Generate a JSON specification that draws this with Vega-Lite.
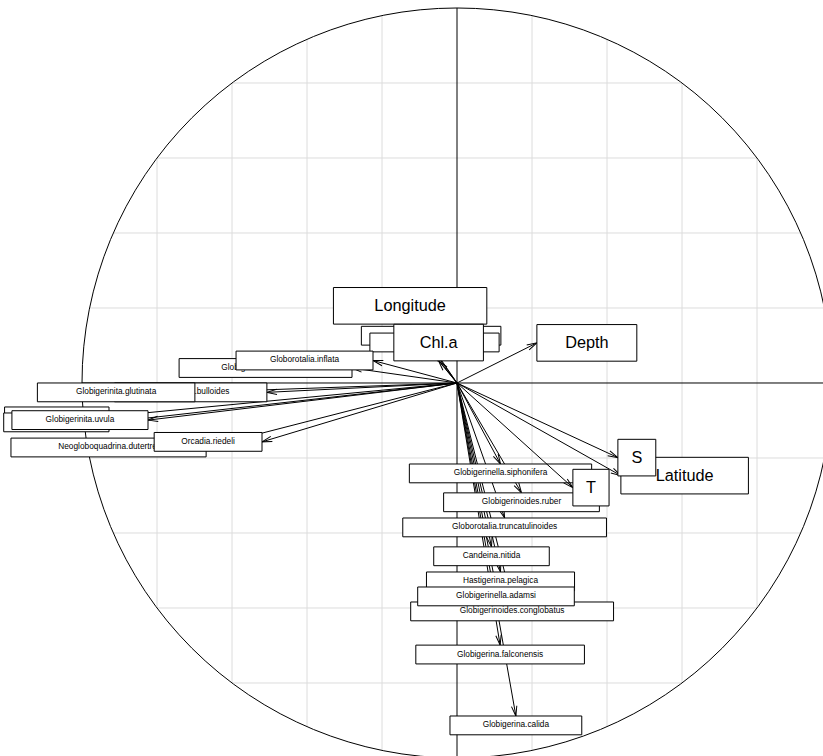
{
  "$schema": "https://vega.github.io/schema/vega-lite/v6.json",
  "width": 823,
  "height": 756,
  "padding": 0,
  "autosize": {"type": "none"},
  "background": "white",
  "config": {"view": {"stroke": null}},
  "datasets": {
    "grid": [{"g": -0.8}, {"g": -0.6}, {"g": -0.4}, {"g": -0.2}, {"g": 0.2}, {"g": 0.4}, {"g": 0.6}, {"g": 0.8}],
    "origin": [{"ox": 0, "oy": 0, "lo": -1, "hi": 1}],
    "vars": [
      {"label": "Tenuitella.iota", "group": "species", "x": -0.928, "y": -0.089},
      {"label": "Beella.digitata", "group": "species", "x": -0.928, "y": -0.105},
      {"label": "Globigerinita.uvula", "group": "species", "x": -0.824, "y": -0.099},
      {"label": "Globigerina.bulloides", "group": "species", "x": -0.507, "y": -0.025},
      {"label": "Globigerinita.glutinata", "group": "species", "x": -0.699, "y": -0.025},
      {"label": "Neogloboquadrina.dutertrei", "group": "species", "x": -0.669, "y": -0.172},
      {"label": "Orcadia.riedeli", "group": "species", "x": -0.52, "y": -0.157},
      {"label": "Globigerinoides.tenellus", "group": "species", "x": -0.28, "y": 0.04},
      {"label": "Globorotalia.inflata", "group": "species", "x": -0.224, "y": 0.06},
      {"label": "Globorotalia.scitula", "group": "species", "x": -0.069, "y": 0.101},
      {"label": "Orbulina.universa", "group": "species", "x": -0.06, "y": 0.083},
      {"label": "Globigerinella.siphonifera", "group": "species", "x": 0.116, "y": -0.216},
      {"label": "Globigerinoides.ruber", "group": "species", "x": 0.172, "y": -0.293},
      {"label": "Globorotalia.truncatulinoides", "group": "species", "x": 0.127, "y": -0.36},
      {"label": "Candeina.nitida", "group": "species", "x": 0.092, "y": -0.437},
      {"label": "Hastigerina.pelagica", "group": "species", "x": 0.116, "y": -0.504},
      {"label": "Globigerinoides.conglobatus", "group": "species", "x": 0.147, "y": -0.584},
      {"label": "Globigerinella.adamsi", "group": "species", "x": 0.104, "y": -0.544},
      {"label": "Globigerina.falconensis", "group": "species", "x": 0.115, "y": -0.699},
      {"label": "Globigerina.calida", "group": "species", "x": 0.157, "y": -0.888},
      {"label": "Longitude", "group": "env", "x": -0.125, "y": 0.157},
      {"label": "Depth", "group": "env", "x": 0.213, "y": 0.107},
      {"label": "Chl.a", "group": "env", "x": -0.049, "y": 0.059},
      {"label": "Latitude", "group": "env", "x": 0.437, "y": -0.247},
      {"label": "T", "group": "env", "x": 0.309, "y": -0.279},
      {"label": "S", "group": "env", "x": 0.429, "y": -0.199}
    ]
  },
  "layer": [
    {
      "data": {"name": "grid"},
      "transform": [{"calculate": "sqrt(1 - datum.g * datum.g)", "as": "hi"}, {"calculate": "-datum.hi", "as": "lo"}],
      "mark": {"type": "rule", "stroke": "#dcdcdc", "strokeWidth": 1, "clip": true},
      "encoding": {
        "x": {"field": "g", "type": "quantitative", "axis": null, "scale": {"domain": [-1.21867, 0.976], "nice": false, "zero": false}},
        "y": {"field": "lo", "type": "quantitative", "axis": null, "scale": {"domain": [-0.99467, 1.02133], "nice": false, "zero": false}},
        "y2": {"field": "hi"}
      }
    },
    {
      "data": {"name": "grid"},
      "transform": [{"calculate": "sqrt(1 - datum.g * datum.g)", "as": "hi"}, {"calculate": "-datum.hi", "as": "lo"}],
      "mark": {"type": "rule", "stroke": "#dcdcdc", "strokeWidth": 1, "clip": true},
      "encoding": {
        "y": {"field": "g", "type": "quantitative", "axis": null},
        "x": {"field": "lo", "type": "quantitative", "axis": null},
        "x2": {"field": "hi"}
      }
    },
    {
      "data": {"name": "origin"},
      "mark": {"type": "rule", "stroke": "#000000", "strokeWidth": 1, "clip": true},
      "encoding": {
        "x": {"field": "ox", "type": "quantitative", "axis": null},
        "y": {"field": "lo", "type": "quantitative", "axis": null},
        "y2": {"field": "hi"}
      }
    },
    {
      "data": {"name": "origin"},
      "mark": {"type": "rule", "stroke": "#000000", "strokeWidth": 1, "clip": true},
      "encoding": {
        "y": {"field": "oy", "type": "quantitative", "axis": null},
        "x": {"field": "lo", "type": "quantitative", "axis": null},
        "x2": {"field": "hi"}
      }
    },
    {
      "data": {"name": "origin"},
      "mark": {"type": "point", "shape": "circle", "size": 562500, "filled": false, "stroke": "#000000", "strokeWidth": 1, "opacity": 1, "clip": true},
      "encoding": {
        "x": {"field": "ox", "type": "quantitative", "axis": null},
        "y": {"field": "oy", "type": "quantitative", "axis": null}
      }
    },
    {
      "data": {"name": "vars"},
      "transform": [
        {"calculate": "0.556*length(datum.label) - 0.334*(length(datum.label)-length(replace(datum.label, regexp('[ijl]','g'), ''))) - 0.278*(length(datum.label)-length(replace(datum.label, regexp('[tf.]','g'), ''))) - 0.223*(length(datum.label)-length(replace(datum.label, regexp('r','g'), ''))) - 0.056*(length(datum.label)-length(replace(datum.label, regexp('[sckvxyz]','g'), ''))) + 0.277*(length(datum.label)-length(replace(datum.label, regexp('[mM]','g'), ''))) + 0.222*(length(datum.label)-length(replace(datum.label, regexp('[GOQ]','g'), ''))) + 0.166*(length(datum.label)-length(replace(datum.label, regexp('[CDHNRUw]','g'), ''))) + 0.111*(length(datum.label)-length(replace(datum.label, regexp('[ABEKPSVXY]','g'), ''))) + 0.055*(length(datum.label)-length(replace(datum.label, regexp('[FTZ]','g'), '')))", "as": "w"},
        {"calculate": "datum.group == 'env' ? 15.5 : 7.7", "as": "emb"},
        {"calculate": "(datum.w + 0.556) * datum.emb / 375", "as": "hw"},
        {"calculate": "(datum.group == 'env' ? 18.3 : 9.4) / 375", "as": "yh"},
        {"calculate": "datum.x > datum.y ? (datum.x > -datum.y ? 'R' : 'D') : (datum.x <= -datum.y ? 'L' : 'U')", "as": "dir"},
        {"calculate": "datum.dir == 'R' ? datum.x + datum.hw : (datum.dir == 'L' ? datum.x - datum.hw : datum.x)", "as": "cx"},
        {"calculate": "datum.dir == 'D' ? datum.y - datum.yh : (datum.dir == 'U' ? datum.y + datum.yh : datum.y)", "as": "cy"},
        {"calculate": "datum.cx - datum.hw", "as": "bx1"},
        {"calculate": "datum.cx + datum.hw", "as": "bx2"},
        {"calculate": "datum.cy - datum.yh", "as": "by1"},
        {"calculate": "datum.cy + datum.yh", "as": "by2"},
        {"calculate": "-atan2(datum.y, datum.x) * 180 / PI", "as": "ang"},
        {"calculate": "0", "as": "zero"}
      ],
      "layer": [
        {
          "transform": [{"filter": "datum.group == 'species'"}],
          "mark": {"type": "rule", "stroke": "#000000", "strokeWidth": 1, "clip": true},
          "encoding": {
            "x": {"field": "zero", "type": "quantitative", "axis": null},
            "y": {"field": "zero", "type": "quantitative", "axis": null},
            "x2": {"field": "x"},
            "y2": {"field": "y"}
          }
        },
        {
          "transform": [{"filter": "datum.group == 'species'"}],
          "mark": {"type": "point", "shape": "M-1,-0.27L0,0L-1,0.27", "size": 400, "filled": false, "stroke": "#000000", "strokeWidth": 1, "opacity": 1, "clip": true},
          "encoding": {
            "x": {"field": "x", "type": "quantitative", "axis": null},
            "y": {"field": "y", "type": "quantitative", "axis": null},
            "angle": {"field": "ang", "type": "quantitative", "scale": null}
          }
        },
        {
          "transform": [{"filter": "datum.group == 'species'"}, {"filter": {"not": {"field": "label", "oneOf": ["Globigerinita.uvula", "Globigerinita.glutinata", "Orcadia.riedeli", "Globorotalia.inflata", "Globigerinella.adamsi"]}}}],
          "mark": {"type": "rect", "fill": "#ffffff", "stroke": "#000000", "strokeWidth": 1, "clip": true},
          "encoding": {
            "x": {"field": "bx1", "type": "quantitative", "axis": null},
            "x2": {"field": "bx2"},
            "y": {"field": "by1", "type": "quantitative", "axis": null},
            "y2": {"field": "by2"}
          }
        },
        {
          "transform": [{"filter": "datum.group == 'species'"}, {"filter": {"not": {"field": "label", "oneOf": ["Globigerinita.uvula", "Globigerinita.glutinata", "Orcadia.riedeli", "Globorotalia.inflata", "Globigerinella.adamsi"]}}}],
          "mark": {"type": "text", "font": "Liberation Sans", "fontSize": 8.3, "align": "center", "baseline": "middle", "fill": "#000000", "clip": true},
          "encoding": {
            "x": {"field": "cx", "type": "quantitative", "axis": null},
            "y": {"field": "cy", "type": "quantitative", "axis": null},
            "text": {"field": "label"}
          }
        },
        {
          "transform": [{"filter": "datum.group == 'species'"}, {"filter": {"field": "label", "oneOf": ["Globigerinita.uvula", "Globigerinita.glutinata", "Orcadia.riedeli", "Globorotalia.inflata", "Globigerinella.adamsi"]}}],
          "mark": {"type": "rect", "fill": "#ffffff", "stroke": "#000000", "strokeWidth": 1, "clip": true},
          "encoding": {
            "x": {"field": "bx1", "type": "quantitative", "axis": null},
            "x2": {"field": "bx2"},
            "y": {"field": "by1", "type": "quantitative", "axis": null},
            "y2": {"field": "by2"}
          }
        },
        {
          "transform": [{"filter": "datum.group == 'species'"}, {"filter": {"field": "label", "oneOf": ["Globigerinita.uvula", "Globigerinita.glutinata", "Orcadia.riedeli", "Globorotalia.inflata", "Globigerinella.adamsi"]}}],
          "mark": {"type": "text", "font": "Liberation Sans", "fontSize": 8.3, "align": "center", "baseline": "middle", "fill": "#000000", "clip": true},
          "encoding": {
            "x": {"field": "cx", "type": "quantitative", "axis": null},
            "y": {"field": "cy", "type": "quantitative", "axis": null},
            "text": {"field": "label"}
          }
        },
        {
          "transform": [{"filter": "datum.group == 'env'"}],
          "mark": {"type": "rule", "stroke": "#000000", "strokeWidth": 1, "clip": true},
          "encoding": {
            "x": {"field": "zero", "type": "quantitative", "axis": null},
            "y": {"field": "zero", "type": "quantitative", "axis": null},
            "x2": {"field": "x"},
            "y2": {"field": "y"}
          }
        },
        {
          "transform": [{"filter": "datum.group == 'env'"}],
          "mark": {"type": "point", "shape": "M-1,-0.27L0,0L-1,0.27", "size": 400, "filled": false, "stroke": "#000000", "strokeWidth": 1, "opacity": 1, "clip": true},
          "encoding": {
            "x": {"field": "x", "type": "quantitative", "axis": null},
            "y": {"field": "y", "type": "quantitative", "axis": null},
            "angle": {"field": "ang", "type": "quantitative", "scale": null}
          }
        },
        {
          "transform": [{"filter": "datum.group == 'env' && datum.label != 'S'"}],
          "mark": {"type": "rect", "fill": "#ffffff", "stroke": "#000000", "strokeWidth": 1, "clip": true},
          "encoding": {
            "x": {"field": "bx1", "type": "quantitative", "axis": null},
            "x2": {"field": "bx2"},
            "y": {"field": "by1", "type": "quantitative", "axis": null},
            "y2": {"field": "by2"}
          }
        },
        {
          "transform": [{"filter": "datum.group == 'env' && datum.label != 'S'"}],
          "mark": {"type": "text", "font": "Liberation Sans", "fontSize": 16.3, "align": "center", "baseline": "middle", "fill": "#000000", "clip": true},
          "encoding": {
            "x": {"field": "cx", "type": "quantitative", "axis": null},
            "y": {"field": "cy", "type": "quantitative", "axis": null},
            "text": {"field": "label"}
          }
        },
        {
          "transform": [{"filter": "datum.group == 'env' && datum.label == 'S'"}],
          "mark": {"type": "rect", "fill": "#ffffff", "stroke": "#000000", "strokeWidth": 1, "clip": true},
          "encoding": {
            "x": {"field": "bx1", "type": "quantitative", "axis": null},
            "x2": {"field": "bx2"},
            "y": {"field": "by1", "type": "quantitative", "axis": null},
            "y2": {"field": "by2"}
          }
        },
        {
          "transform": [{"filter": "datum.group == 'env' && datum.label == 'S'"}],
          "mark": {"type": "text", "font": "Liberation Sans", "fontSize": 16.3, "align": "center", "baseline": "middle", "fill": "#000000", "clip": true},
          "encoding": {
            "x": {"field": "cx", "type": "quantitative", "axis": null},
            "y": {"field": "cy", "type": "quantitative", "axis": null},
            "text": {"field": "label"}
          }
        }
      ]
    }
  ]
}
